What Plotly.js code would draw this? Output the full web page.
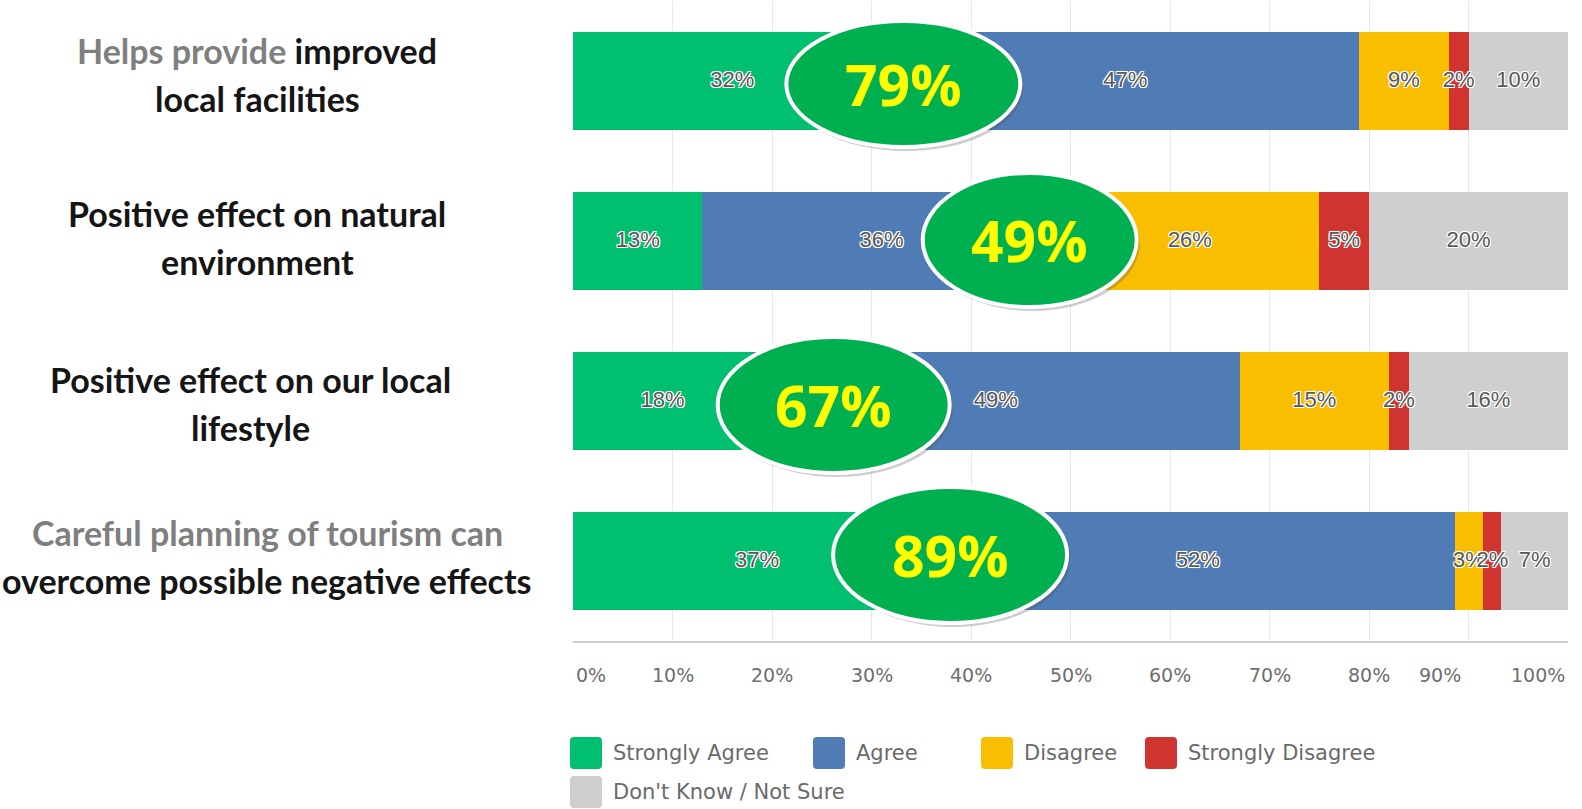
<!DOCTYPE html>
<html>
<head>
<meta charset="utf-8">
<script src="https://cdn.plot.ly/plotly-3.0.1.min.js"></script>
<style>
  html, body { margin: 0; padding: 0; background: #ffffff; }
  #chart { width: 1582px; height: 809px; }
</style>
</head>
<body>
<div id="chart"></div>
<script>
// ---------------- DATA ----------------
const categories = [
  'Helps provide improved local facilities',
  'Positive effect on natural environment',
  'Positive effect on our local lifestyle',
  'Careful planning of tourism can overcome possible negative effects'
];
// segment lengths (labels are the rounded values)
const stronglyAgree    = [32, 13, 18, 37];
const agree            = [47, 36, 49, 51.6];
const disagree         = [9, 26, 15, 2.9];
const stronglyDisagree = [2, 5, 2, 1.8];
const dontKnow         = [10, 20, 16, 6.7];

const seriesNames = ['Strongly Agree', 'Agree', 'Disagree', 'Strongly Disagree', "Don't Know / Not Sure"];
const tickValues = [0, 10, 20, 30, 40, 50, 60, 70, 80, 90, 100];
const tickLabels = ['0%', '10%', '20%', '30%', '40%', '50%', '60%', '70%', '80%', '90%', '100%'];

// Row label lines (grey part = lighter words)
const labelLines = [
  ['<span style="color:#7f7f7f">Helps provide</span> improved', 'local facilities'],
  ['Positive effect on natural', 'environment'],
  ['Positive effect on our local', 'lifestyle'],
  ['<span style="color:#7f7f7f">Careful planning of tourism can</span>', 'overcome possible negative effects']
];

// ---------------- STYLE / LAYOUT CONFIG ----------------
const colors = ['#00bf6f', '#507cb6', '#f9be00', '#cf3430', '#cfcfcf'];
const PL = 573, PW = 995, PT = 1, PH = 640;
const fx = px => (px - PL) / PW;
const fy = py => (PT + PH - py) / PH;

// highlight ellipse placement (data x of centre, pixel radii, pixel y offset)
const ellipseCx = [33.2, 45.9, 26.2, 37.9];
const ellipseRx = [117, 107, 116, 117];
const ellipseRy = [63, 67, 68, 68];
const ellipseDy = [3, -1, 4, -6];
// row label placement: pixel centre x and pixel offsets (positive = down)
const labelCx = [257, 257, 250, 267];
const labelDy = [-6, -3, 3, -4];
// tick label pixel nudges
const tickShift = [1, 0, 0, 0, 0, 0, 0, 0, 0, -29, -1];

const seriesValues = [stronglyAgree, agree, disagree, stronglyDisagree, dontKnow];

const labelShadow = '-1px -1px 0 #ffffff, 1px -1px 0 #ffffff, -1px 1px 0 #ffffff, 1px 1px 0 #ffffff, 0 0 2px #ffffff';

const barTraces = seriesValues.map((vals, k) => ({
  type: 'bar',
  orientation: 'h',
  name: seriesNames[k],
  y: categories,
  x: vals,
  textposition: 'none',
  marker: { color: colors[k], line: { width: 0 } },
  hoverinfo: 'x+name',
  showlegend: false
}));

// value labels drawn on top of all bars (centre of each segment)
const textTraces = seriesValues.map((vals, k) => {
  const mids = vals.map((v, i) => {
    let start = 0;
    for (let j = 0; j < k; j++) start += seriesValues[j][i];
    return start + v / 2;
  });
  return {
    type: 'scatter',
    mode: 'text',
    x: mids,
    y: categories,
    text: vals.map(v => Math.round(v) + '%'),
    textposition: 'middle center',
    cliponaxis: false,
    textfont: { family: 'Liberation Sans, Arial, sans-serif', size: 22, color: '#585858', shadow: labelShadow },
    hoverinfo: 'skip',
    showlegend: false
  };
});

const shapes = [];
const annotations = [];

categories.forEach((c, i) => {
  const dy = ellipseDy[i];
  shapes.push({
    type: 'circle', layer: 'above',
    xref: 'x', yref: 'y', xsizemode: 'pixel', ysizemode: 'pixel',
    xanchor: ellipseCx[i], yanchor: i,
    x0: -ellipseRx[i] + 3, x1: ellipseRx[i] + 3,
    y0: -dy - ellipseRy[i] - 4, y1: -dy + ellipseRy[i] - 4,
    fillcolor: 'rgba(80,80,80,0.28)', line: { width: 0 }
  });
  shapes.push({
    type: 'circle', layer: 'above',
    xref: 'x', yref: 'y', xsizemode: 'pixel', ysizemode: 'pixel',
    xanchor: ellipseCx[i], yanchor: i,
    x0: -ellipseRx[i], x1: ellipseRx[i],
    y0: -dy - ellipseRy[i], y1: -dy + ellipseRy[i],
    fillcolor: '#00b050', line: { color: '#ffffff', width: 4 }
  });
  annotations.push({
    xref: 'x', yref: 'y', x: ellipseCx[i], y: i, yshift: -dy,
    xanchor: 'center', yanchor: 'middle', showarrow: false,
    text: Math.round(stronglyAgree[i] + agree[i]) + '%',
    font: { family: 'Open Sans, sans-serif', size: 57, weight: 700, color: '#ffff00' }
  });
  // row labels
  annotations.push({
    xref: 'paper', yref: 'y', x: fx(labelCx[i]), y: i, yshift: 25 - labelDy[i],
    xanchor: 'center', yanchor: 'middle', showarrow: false,
    text: labelLines[i][0],
    font: { family: 'Lato, sans-serif', size: 34, weight: 700, color: '#151515' }
  });
  annotations.push({
    xref: 'paper', yref: 'y', x: fx(labelCx[i]), y: i, yshift: -23 - labelDy[i],
    xanchor: 'center', yanchor: 'middle', showarrow: false,
    text: labelLines[i][1],
    font: { family: 'Lato, sans-serif', size: 34, weight: 700, color: '#151515' }
  });
});

// x tick labels
tickValues.forEach((v, j) => {
  annotations.push({
    xref: 'x', yref: 'paper', x: v, y: 0, yshift: -34,
    xanchor: j === 0 ? 'left' : (j === tickValues.length - 1 ? 'right' : 'center'),
    xshift: tickShift[j],
    yanchor: 'middle', showarrow: false,
    text: tickLabels[j],
    font: { family: 'DejaVu Sans, sans-serif', size: 19, color: '#6e6e6e' }
  });
});

// custom legend
const legendX = [570, 813, 981, 1145, 570];
const legendY = [753, 753, 753, 753, 792];
function roundRect(x0, y0, x1, y1, r) {
  const X = fx, Y = fy;
  return 'M' + X(x0 + r) + ',' + Y(y0) +
    ' L' + X(x1 - r) + ',' + Y(y0) +
    ' Q' + X(x1) + ',' + Y(y0) + ' ' + X(x1) + ',' + Y(y0 + r) +
    ' L' + X(x1) + ',' + Y(y1 - r) +
    ' Q' + X(x1) + ',' + Y(y1) + ' ' + X(x1 - r) + ',' + Y(y1) +
    ' L' + X(x0 + r) + ',' + Y(y1) +
    ' Q' + X(x0) + ',' + Y(y1) + ' ' + X(x0) + ',' + Y(y1 - r) +
    ' L' + X(x0) + ',' + Y(y0 + r) +
    ' Q' + X(x0) + ',' + Y(y0) + ' ' + X(x0 + r) + ',' + Y(y0) + ' Z';
}
seriesNames.forEach((name, k) => {
  const x = legendX[k], y = legendY[k];
  shapes.push({
    type: 'path', xref: 'paper', yref: 'paper', layer: 'above',
    path: roundRect(x, y - 16, x + 32, y + 16, 4),
    fillcolor: colors[k], line: { width: 0 }
  });
  annotations.push({
    xref: 'paper', yref: 'paper', x: fx(x + 41), y: fy(y),
    xanchor: 'left', yanchor: 'middle', showarrow: false,
    text: name,
    font: { family: 'DejaVu Sans, sans-serif', size: 21, color: '#6a6a6a' }
  });
});

const layout = {
  width: 1582, height: 809,
  margin: { l: PL, r: 1582 - PL - PW, t: PT, b: 809 - PT - PH, pad: 0 },
  paper_bgcolor: '#ffffff', plot_bgcolor: '#ffffff',
  barmode: 'stack',
  bargap: 0.3875,
  showlegend: false,
  xaxis: {
    range: [0, 100], tickvals: tickValues, showticklabels: false,
    showgrid: true, gridcolor: '#e9e9e9', gridwidth: 1,
    zeroline: false, showline: true, linecolor: '#cfcfcf', linewidth: 2,
    ticks: '', fixedrange: true
  },
  yaxis: {
    type: 'category', categoryorder: 'array', categoryarray: categories,
    autorange: 'reversed', showticklabels: false, showgrid: false,
    zeroline: false, showline: false, ticks: '', fixedrange: true
  },
  shapes: shapes,
  annotations: annotations,
  font: { family: 'Open Sans, sans-serif' }
};

Plotly.newPlot('chart', barTraces.concat(textTraces), layout, { displayModeBar: false, staticPlot: true });
</script>
</body>
</html>
